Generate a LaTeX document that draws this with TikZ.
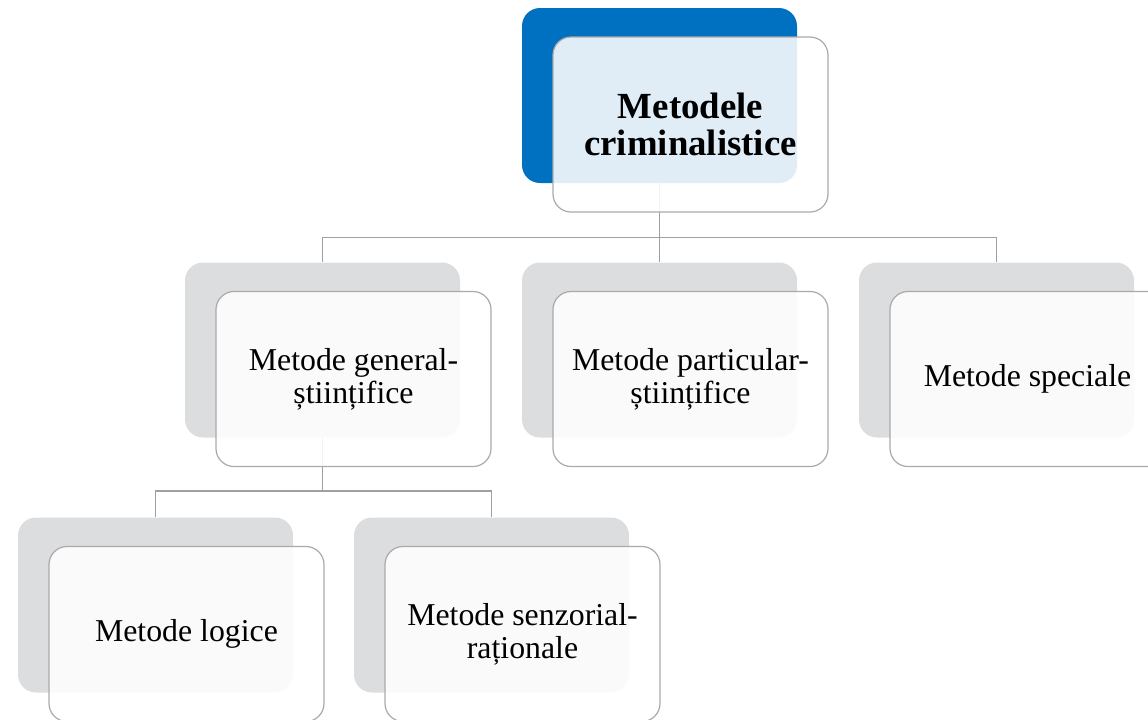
\documentclass[tikz,border=0pt]{standalone}
\usepackage{fontspec}
\setmainfont{Liberation Serif}
\usepackage{tikz}
\usetikzlibrary{calc}
\definecolor{backblue}{RGB}{0,112,192}
\definecolor{backgray}{RGB}{220,221,223}
\definecolor{rim}{RGB}{170,170,172}
\definecolor{wire}{RGB}{160,160,164}
\tikzset{
    backbox/.style={
        rectangle,
        rounded corners=9pt,
        minimum width=137.5pt,
        minimum height=87.5pt,
        inner sep=0pt},
    frontbox/.style={
        rectangle,
        rounded corners=9pt,
        draw=rim, line width=0.6pt,
        fill=white, fill opacity=0.88, text opacity=1,
        minimum width=137.5pt,
        minimum height=87.5pt,
        align=center,
        font=\fontsize{15.9}{16.5}\selectfont},
    titlefont/.style={font=\fontsize{18.4}{18.5}\selectfont\bfseries},
    wireline/.style={draw=wire, line width=0.6pt},
}

\begin{document}
\begin{tikzpicture}[x=0.5pt, y=-0.5pt]

  \useasboundingbox (0,0) rectangle (1148,719);

  %% Back boxes
  \node[backbox, fill=backblue] (mb) at (659.5,95.5) {};
  \node[backbox, fill=backgray] (gb) at (322.5,350) {};
  \node[backbox, fill=backgray] (pb) at (659.5,350) {};
  \node[backbox, fill=backgray] (sb) at (996.5,350) {};
  \node[backbox, fill=backgray] (lb) at (155.5,605) {};
  \node[backbox, fill=backgray] (rb) at (491.5,605) {};

  %% Connectors
  \coordinate (j1) at ($(mb.south)+(0,54)$);
  \draw[wireline] (mb.south) -- (j1) -| (gb.north);
  \draw[wireline] (j1) -- (pb.north);
  \draw[wireline] (j1) -| (sb.north);

  \coordinate (j2) at ($(gb.south)+(0,53)$);
  \draw[wireline] (gb.south) -- (j2) -| (lb.north);
  \draw[wireline] (j2) -| (rb.north);

  %% Front boxes
  \node[frontbox, titlefont] (m) at ($(mb)+(31,29)$) {Metodele\\criminalistice};
  \node[frontbox] (g) at ($(gb)+(31,29)$) {Metode general-\\științifice};
  \node[frontbox] (p) at ($(pb)+(31,29)$) {Metode particular-\\științifice};
  \node[frontbox] (s) at ($(sb)+(31,29)$) {Metode speciale};
  \node[frontbox] (l) at ($(lb)+(31,29)$) {Metode logice};
  \node[frontbox] (r) at ($(rb)+(31,29)$) {Metode senzorial-\\raționale};

\end{tikzpicture}
\end{document}
